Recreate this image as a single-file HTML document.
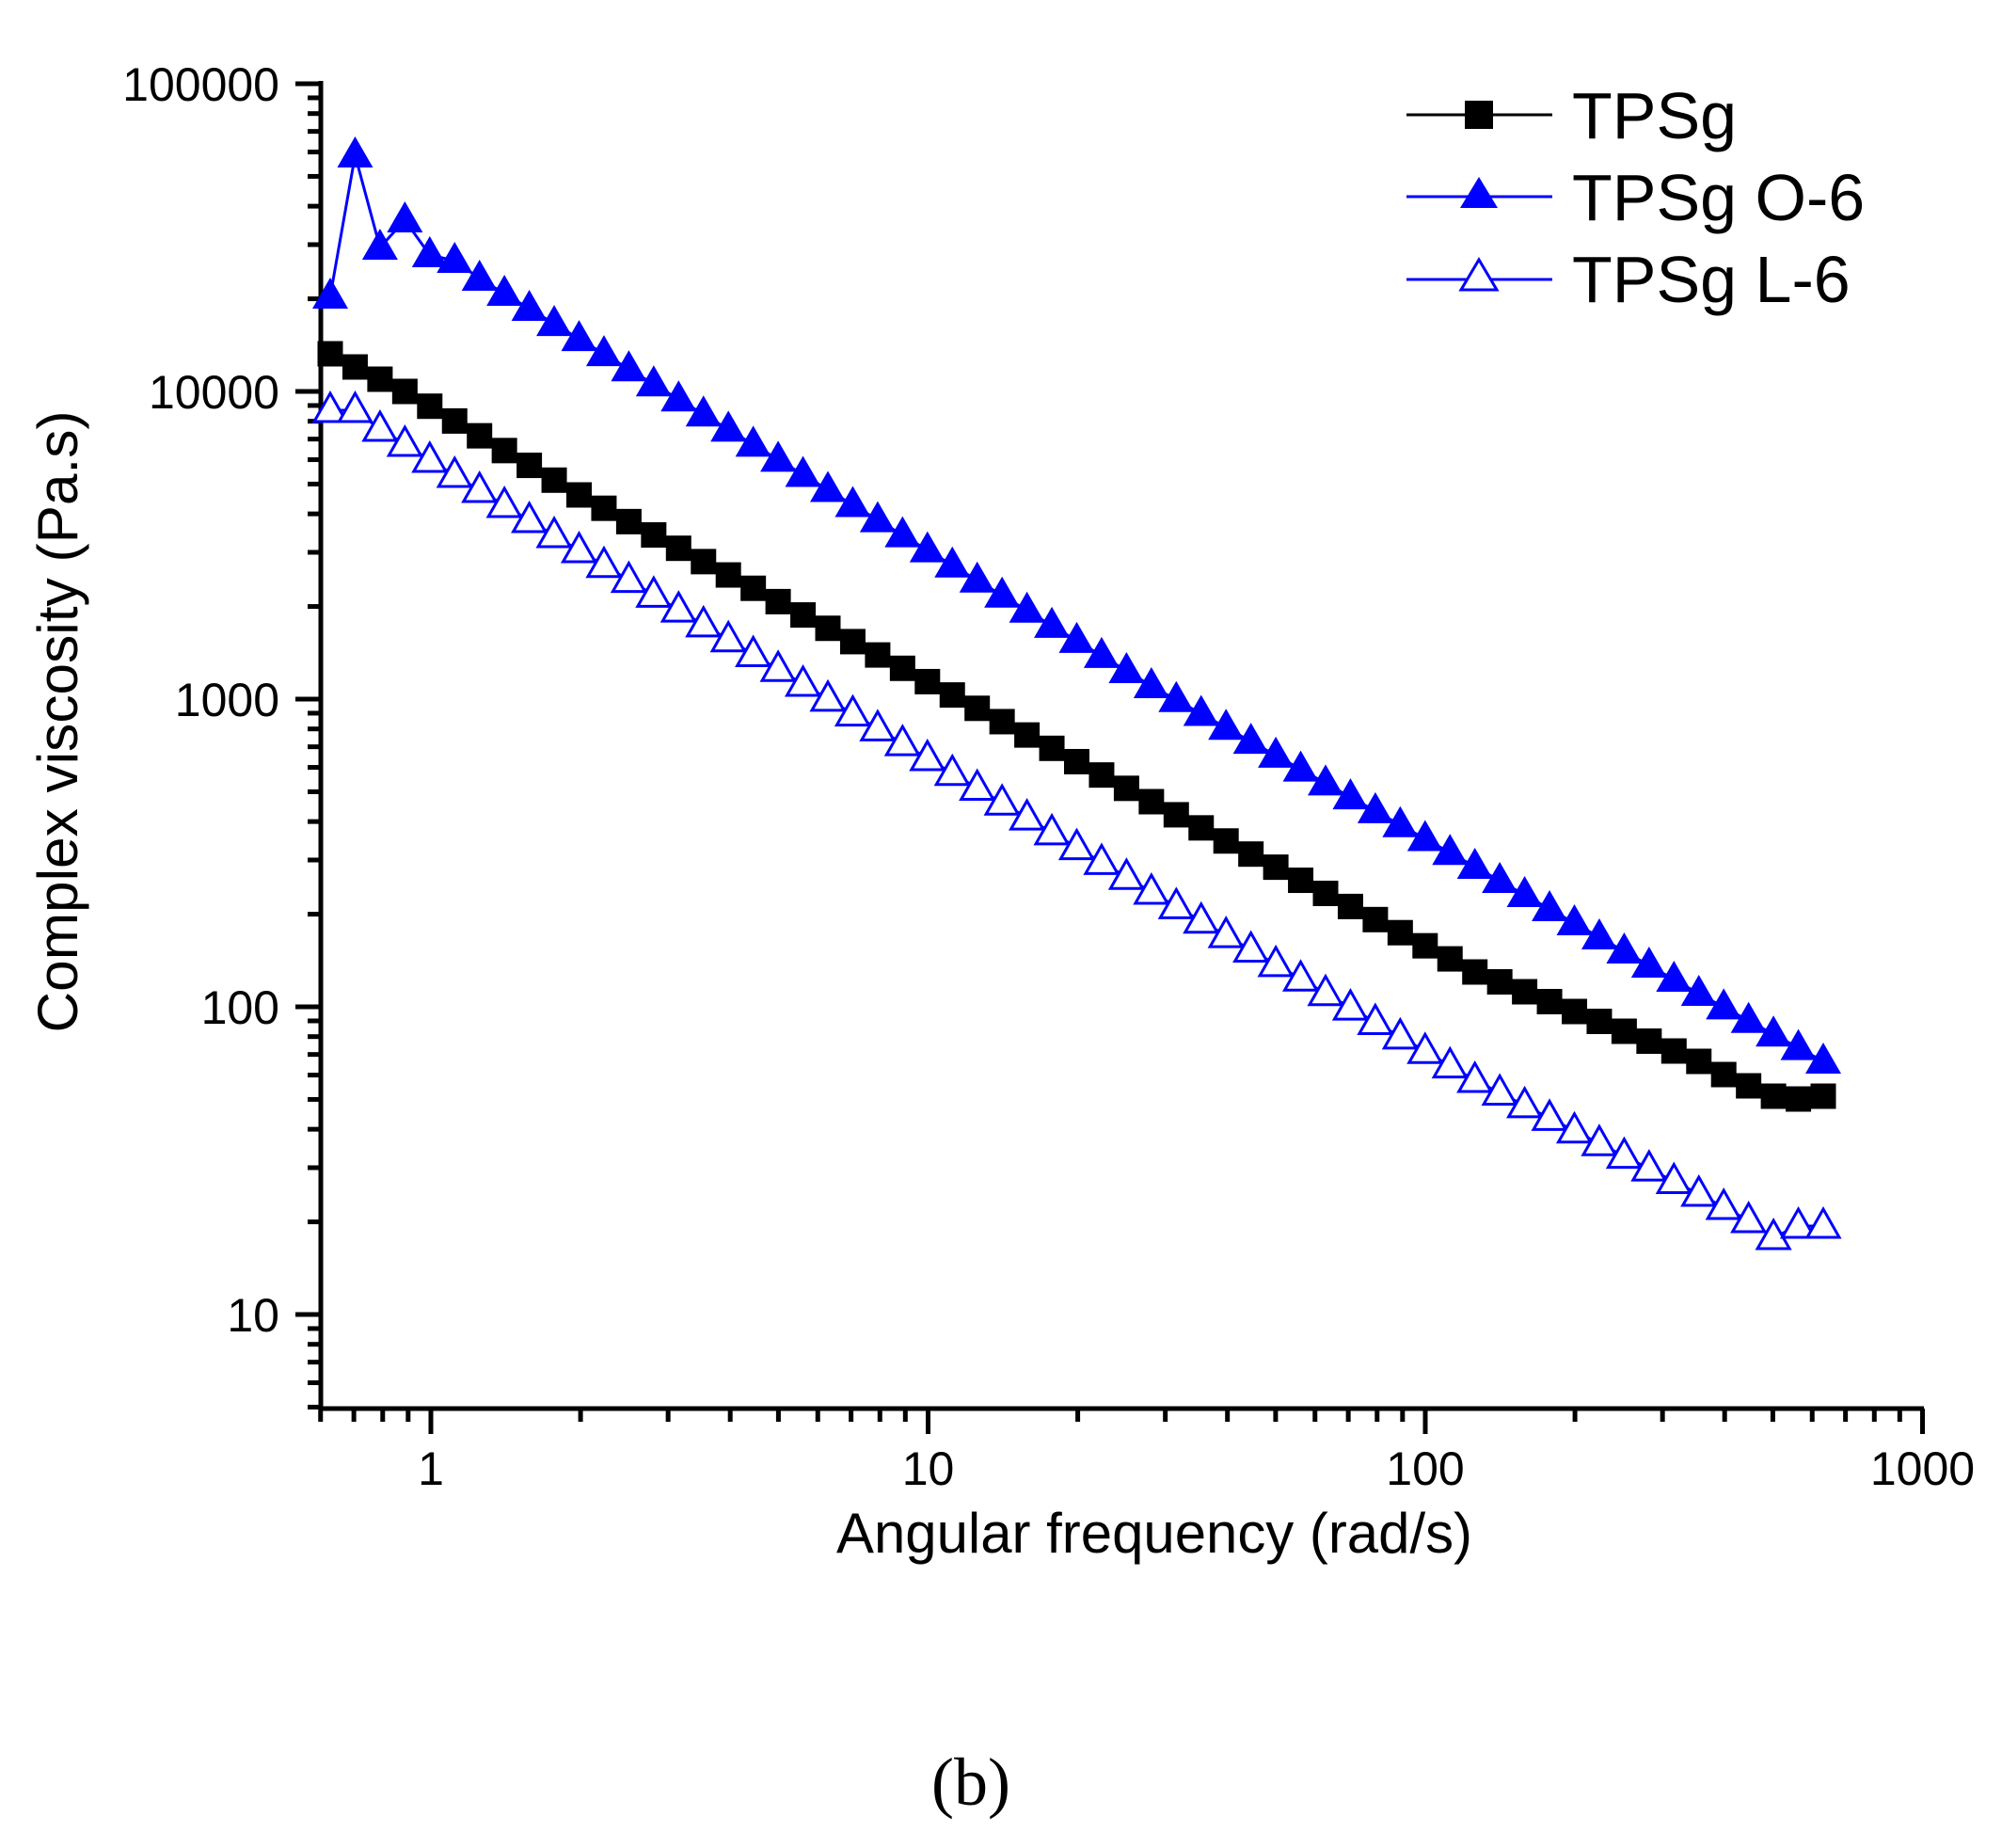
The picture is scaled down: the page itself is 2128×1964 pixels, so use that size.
<!DOCTYPE html>
<html><head><meta charset="utf-8"><style>
html,body{margin:0;padding:0;background:#fff;}
svg{display:block;font-family:"Liberation Sans",Arial,sans-serif;}
</style></head><body>
<svg id="s" width="2128" height="1964" viewBox="0 0 2128 1964" xmlns="http://www.w3.org/2000/svg">
<rect width="2128" height="1964" fill="#fff"/>
<g id="axes" stroke="#000" stroke-width="5" fill="none">
<line x1="341" y1="86" x2="341" y2="1499"/>
<line x1="339" y1="1497" x2="2045" y2="1497"/>
</g>
<g id="ticks" stroke="#000" stroke-width="5"></g>
<g id="labels" font-size="50" fill="#000"></g>
<g id="data"></g>
<text x="1227" y="1650" font-size="60" text-anchor="middle" textLength="676" lengthAdjust="spacingAndGlyphs">Angular frequency (rad/s)</text>
<text transform="translate(82,767) rotate(-90)" font-size="60" text-anchor="middle" textLength="661" lengthAdjust="spacingAndGlyphs">Complex viscosity (Pa.s)</text>
<text x="1032" y="1918" font-size="72" text-anchor="middle" font-family="Liberation Serif, serif">(b)</text>
<g id="legend">
<line x1="1495" y1="122" x2="1650" y2="122" stroke="#000" stroke-width="3"/>
<rect x="1557" y="107" width="30" height="30" fill="#000"/>
<line x1="1495" y1="209" x2="1650" y2="209" stroke="#0000ff" stroke-width="3"/>
<polygon points="1572,188 1592,221 1552,221" fill="#0000ff"/>
<line x1="1495" y1="297" x2="1650" y2="297" stroke="#0000ff" stroke-width="3"/>
<polygon points="1572,276 1591,308 1553,308" fill="#fff" stroke="#0000ff" stroke-width="3"/>
<text x="1671" y="147" font-size="70">TPSg</text>
<text x="1671" y="234" font-size="70">TPSg O-6</text>
<text x="1671" y="321" font-size="70">TPSg L-6</text>
</g>
</svg>
<script>
var NS="http://www.w3.org/2000/svg";
function el(p,t,a){var e=document.createElementNS(NS,t);for(var k in a)e.setAttribute(k,a[k]);p.appendChild(e);return e;}
var T=document.getElementById('ticks'),L=document.getElementById('labels'),D=document.getElementById('data');
var y0=89,dec=327,x1=458,dx=528.5;
function Y(v){return y0+(5-Math.log10(v))*dec;}
function X(v){return x1+Math.log10(v)*dx;}
var ylab=["10","100","1000","10000","100000"];
for(var e=0;e<=5;e++){for(var m=1;m<=9;m++){var v=Math.pow(10,e)*m;if(v<5||v>100001)continue;var y=Y(v);
 if(m==1){el(T,'line',{x1:314,y1:y,x2:341,y2:y});var t=el(L,'text',{x:297,y:y+18,'text-anchor':'end'});t.textContent=ylab[e-1];}
 else el(T,'line',{x1:327,y1:y,x2:341,y2:y});}}
var xlab={"-1":"","0":"1","1":"10","2":"100","3":"1000"};
for(var e=-1;e<=3;e++){for(var m=1;m<=9;m++){var v=Math.pow(10,e)*m;if(v<0.6||v>1001)continue;var x=X(v);
 if(m==1){el(T,'line',{x1:x,y1:1497,x2:x,y2:1524});var t=el(L,'text',{x:x,y:1578,'text-anchor':'middle'});t.textContent=xlab[String(e)];}
 else el(T,'line',{x1:x,y1:1497,x2:x,y2:1511});}}
function interp(a,k){for(var i=0;i<a.length-1;i++){if(k>=a[i][0]&&k<=a[i+1][0]){var f=(k-a[i][0])/(a[i+1][0]-a[i][0]);return a[i][1]+f*(a[i+1][1]-a[i][1]);}}return a[a.length-1][1];}
var F=[[0,315],[1,165],[2,263],[3,234],[4,271],[5,277],[6,296],[7,312],[33,729],[46,921],[55,1056],[60,1128]];
var B=[[0,376],[1,390],[2,403],[3,416],[10,526],[33,852],[46,1033],[54,1117],[55,1128],[56,1142],[57,1154],[58,1165],[59,1168],[60,1165]];
var O=[[0,436],[1,436],[2,456],[3,472],[4,489],[10,585],[33,948],[46,1148],[55,1269],[56,1283],[57,1297],[58,1315],[59,1303],[60,1303]];
function pts(a){var r=[];for(var k=0;k<=60;k++)r.push([351+k*26.45,interp(a,k)]);return r;}
function line(p,c){el(D,'polyline',{points:p.map(function(q){return q[0]+','+q[1]}).join(' '),fill:'none',stroke:c,'stroke-width':3});}
var pb=pts(B),pf=pts(F),po=pts(O);
line(pb,'#000');
pb.forEach(function(q){el(D,'rect',{x:q[0]-13.5,y:q[1]-13.5,width:27,height:27,fill:'#000'});});
line(po,'#0000ff');
po.forEach(function(q){el(D,'polygon',{points:(q[0])+','+(q[1]-18)+' '+(q[0]+17)+','+(q[1]+12)+' '+(q[0]-17)+','+(q[1]+12),fill:'#fff',stroke:'#0000ff','stroke-width':3});});
line(pf,'#0000ff');
pf.forEach(function(q){el(D,'polygon',{points:(q[0])+','+(q[1]-20)+' '+(q[0]+19)+','+(q[1]+13)+' '+(q[0]-19)+','+(q[1]+13),fill:'#0000ff'});});
</script>
</body></html>
